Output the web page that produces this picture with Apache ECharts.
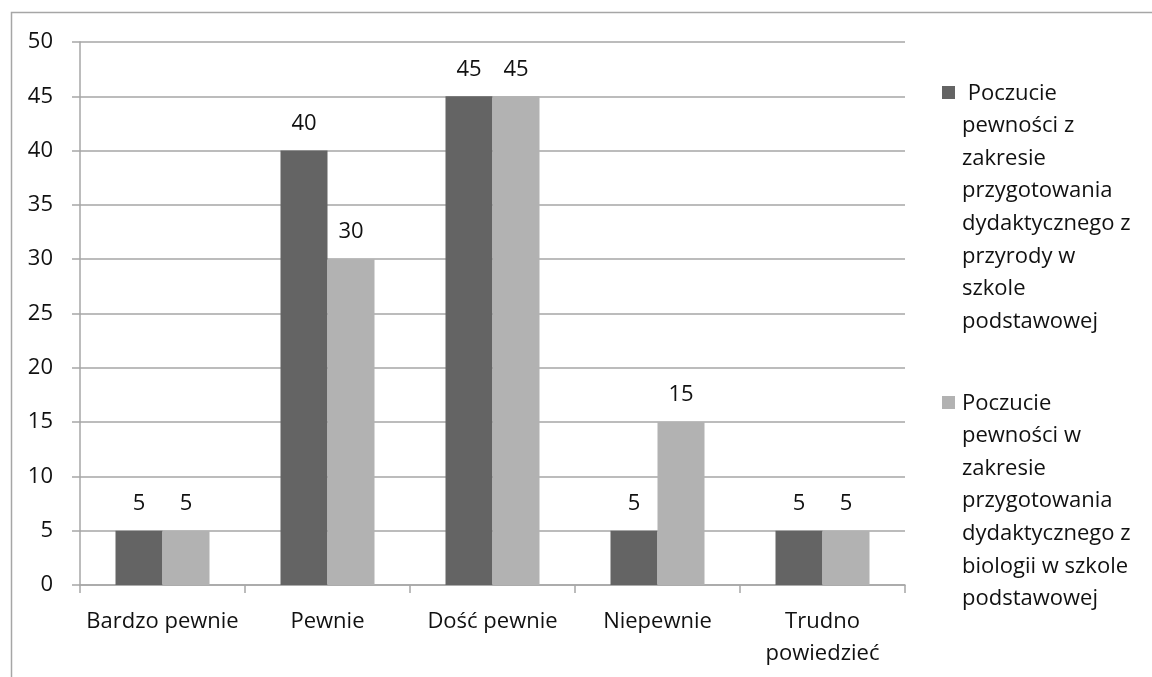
<!DOCTYPE html>
<html>
<head>
<meta charset="utf-8">
<script src="https://cdn.jsdelivr.net/npm/echarts@6/dist/echarts.min.js"></script>
<style>
html,body{margin:0;padding:0;background:#fff;}
#chart{width:1152px;height:677px;}
</style>
</head>
<body>
<div id="chart"></div>
<script>
// ---- data ----
var categories = ['Bardzo pewnie', 'Pewnie', 'Dość pewnie', 'Niepewnie', 'Trudno\npowiedzieć'];
var seriesNames = [
  ' Poczucie\npewności z\nzakresie\nprzygotowania\ndydaktycznego z\nprzyrody w\nszkole\npodstawowej',
  'Poczucie\npewności w\nzakresie\nprzygotowania\ndydaktycznego z\nbiologii w szkole\npodstawowej'
];
var przyrodaValues = [5, 40, 45, 5, 5];
var biologiaValues = [5, 30, 45, 15, 5];
var yTicks = [0, 5, 10, 15, 20, 25, 30, 35, 40, 45, 50];

// ---- styles ----
var FONT = '"Open Sans", "Noto Sans", sans-serif';
var FS = 22;
var colors = ['#646464', '#b2b2b2'];
var lineColor = '#a6a6a6';
var textColor = '#111111';

var chart = echarts.init(document.getElementById('chart'), null, {renderer: 'canvas'});

function labelCfg() {
  return {
    show: true, position: 'top', distance: 14,
    fontFamily: FONT, fontSize: FS, color: textColor, lineHeight: 26
  };
}

var legendTop = [77, 387];
var graphics = [{
  type: 'rect', silent: true,
  shape: {x: 11.5, y: 12.5, width: 1200, height: 720},
  style: {fill: null, stroke: lineColor, lineWidth: 1.5}
}];
seriesNames.forEach(function (name, i) {
  graphics.push({
    type: 'rect', silent: true,
    shape: {x: 942, y: legendTop[i] + 9, width: 13, height: 13},
    style: {fill: colors[i]}
  });
  graphics.push({
    type: 'text', silent: true,
    x: 962, y: legendTop[i],
    style: {
      text: name, fontFamily: FONT, fontSize: FS, lineHeight: 32.6,
      fill: textColor, textAlign: 'left', textVerticalAlign: 'top'
    }
  });
});

chart.setOption({
  animation: false,
  backgroundColor: '#ffffff',
  grid: {left: 80, top: 42, width: 825, height: 543, containLabel: false},
  xAxis: {
    type: 'category',
    data: categories,
    axisLine: {show: true, lineStyle: {color: lineColor, width: 1.5}},
    axisTick: {show: true, length: 8, alignWithLabel: false, lineStyle: {color: lineColor, width: 1.5}},
    axisLabel: {
      margin: 21, fontFamily: FONT, fontSize: FS, color: textColor,
      lineHeight: 32, interval: 0
    },
    splitLine: {show: false}
  },
  yAxis: {
    type: 'value',
    min: yTicks[0], max: yTicks[yTicks.length - 1], interval: 5,
    axisLine: {show: true, lineStyle: {color: lineColor, width: 1.5}},
    axisTick: {show: true, length: 8, lineStyle: {color: lineColor, width: 1.5}},
    axisLabel: {margin: 27, fontFamily: FONT, fontSize: FS, color: textColor},
    splitLine: {show: true, lineStyle: {color: lineColor, width: 1.5}}
  },
  series: [
    {
      name: seriesNames[0], type: 'bar', data: przyrodaValues,
      barWidth: 47, barGap: '0%',
      itemStyle: {color: colors[0]},
      label: labelCfg()
    },
    {
      name: seriesNames[1], type: 'bar', data: biologiaValues,
      barWidth: 47, barGap: '0%',
      itemStyle: {color: colors[1]},
      label: labelCfg()
    }
  ],
  graphic: graphics
});
</script>
</body>
</html>
